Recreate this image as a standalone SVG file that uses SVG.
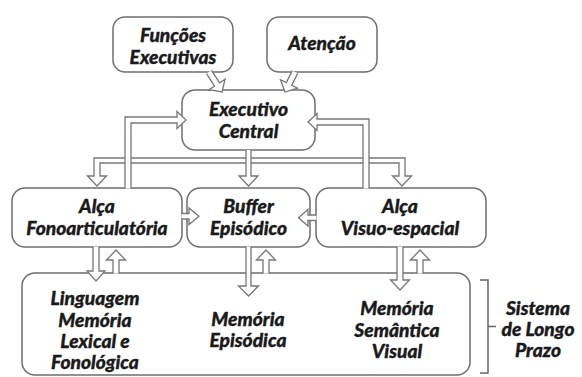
<svg xmlns="http://www.w3.org/2000/svg" width="582" height="377" viewBox="0 0 582 377">
<style>
.box{fill:#fff;stroke:#6e6e6e;stroke-width:1.5}
.arr{fill:#fff;stroke:#777;stroke-width:1.3;stroke-linejoin:miter}
.t{font-family:Lato,"Liberation Sans",sans-serif;font-weight:900;font-style:italic;font-size:19.2px;fill:#1a1a1a;stroke:#1a1a1a;stroke-width:0.35;text-anchor:middle}
.br{fill:none;stroke:#666;stroke-width:1.5}
</style>
<rect width="582" height="377" fill="#fff"/>
<g id="funcoes"><rect class="box" x="113" y="17" width="120" height="55" rx="12"/><text class="t" x="173" y="41.5">Funções</text><text class="t" x="173" y="64">Executivas</text></g>
<g id="atencao"><rect class="box" x="267" y="17" width="110" height="55" rx="12"/><text class="t" x="322" y="50">Atenção</text></g>
<g id="executivo"><rect class="box" x="182" y="90" width="133" height="60" rx="13"/><text class="t" x="248.5" y="116">Executivo</text><text class="t" x="248.5" y="138">Central</text></g>
<g id="fono"><rect class="box" x="12" y="188" width="170" height="59" rx="13"/><text class="t" x="97" y="213">Alça</text><text class="t" x="97" y="235">Fonoarticulatória</text></g>
<g id="buffer"><rect class="box" x="187" y="188" width="123" height="59" rx="13"/><text class="t" x="248.5" y="213">Buffer</text><text class="t" x="248.5" y="235">Episódico</text></g>
<g id="visuo"><rect class="box" x="316" y="188" width="170" height="59" rx="13"/><text class="t" x="400" y="213">Alça</text><text class="t" x="400" y="235">Visuo-espacial</text></g>
<g id="longo"><rect class="box" x="22" y="273" width="448" height="102" rx="13"/>
<text class="t" x="95" y="305">Linguagem</text><text class="t" x="95" y="327">Memória</text><text class="t" x="95" y="348">Lexical e</text><text class="t" x="95" y="369">Fonológica</text>
<text class="t" x="248" y="326">Memória</text><text class="t" x="248" y="347">Episódica</text>
<text class="t" x="397" y="315">Memória</text><text class="t" x="397" y="337">Semântica</text><text class="t" x="397" y="358">Visual</text></g>
<g id="sistema"><path class="br" d="M480,280 L488,280 L488,373 L480,373 M488,326.5 L496,326.5"/><text class="t" x="538" y="315">Sistema</text><text class="t" x="538" y="336">de Longo</text><text class="t" x="538" y="357">Prazo</text></g>
<g id="connectors">
<path class="arr" d="M206.5,73.6 L214.58,86.09 L209.13,89.63 L222,92 L225.07,79.27 L219.62,82.81 L211.5,70.4"/>
<path class="arr" d="M292.32,70.66 L286.34,82.61 L280.53,79.7 L285,92 L297.51,88.2 L291.7,85.29 L297.68,73.34"/>
<path class="arr" d="M94,158 L405,158 L405,176 L411.5,176 L402,186 L392.5,176 L399,176 L399,163 L100,163 L100,176 L106.5,176 L97,186 L87.5,176 L94,176 Z"/>
<path class="arr" d="M246,150 L246,176 L239,176 L248.5,186 L258,176 L251,176 L251,150"/>
<path class="arr" d="M125,188.5 L125,117 L177,117 L177,111.5 L186,120 L177,128.5 L177,123 L131,123 L131,188.5"/>
<path class="arr" d="M369,188.5 L369,119 L317,119 L317,113.5 L308,122 L317,130.5 L317,125 L363,125 L363,188.5"/>
<path class="arr" d="M181.5,213.5 L189,213.5 L189,208 L199,216.25 L189,224.5 L189,219 L181.5,219"/>
<path class="arr" d="M316.5,215 L308,215 L308,209.5 L298.5,217.75 L308,226 L308,220.5 L316.5,220.5"/>
<path class="arr" d="M93,246.5 L93,271 L87,271 L96,281 L105,271 L99,271 L99,246.5"/>
<path class="arr" d="M113,273.5 L113,260 L106.5,260 L116,250 L125.5,260 L119,260 L119,273.5"/>
<path class="arr" d="M246,246.5 L246,286 L238.5,286 L248.5,296 L258.5,286 L251,286 L251,246.5"/>
<path class="arr" d="M263,273.5 L263,260 L256.5,260 L266,250 L275.5,260 L269,260 L269,273.5"/>
<path class="arr" d="M397,246.5 L397,280 L390.5,280 L400,290 L409.5,280 L403,280 L403,246.5"/>
<path class="arr" d="M417,273.5 L417,260 L410.5,260 L420,250 L429.5,260 L423,260 L423,273.5"/>
</g>
</svg>
